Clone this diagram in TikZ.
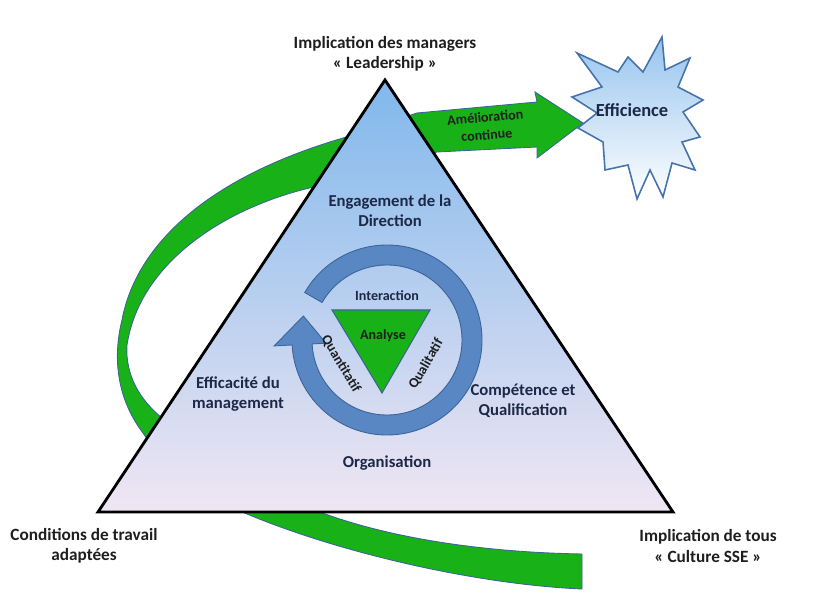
\documentclass[tikz,border=0pt]{standalone}
\usepackage{fontspec}
\setmainfont{Carlito}

\definecolor{bandgreen}{RGB}{24,178,24}
\definecolor{bandedge}{RGB}{60,100,150}
\definecolor{ringblue}{RGB}{88,135,195}
\definecolor{ringedge}{RGB}{60,100,150}
\definecolor{labelnavy}{RGB}{28,40,70}
\definecolor{labeldark}{RGB}{30,30,30}
\definecolor{skytop}{RGB}{128,184,236}
\definecolor{skymid}{RGB}{203,225,243}
\definecolor{skybot}{RGB}{240,230,243}
\definecolor{starblue}{RGB}{150,196,238}
\definecolor{staredge}{RGB}{70,115,170}

\begin{document}
\begin{tikzpicture}[x=0.02cm, y=-0.02cm,
    outerlabel/.style={align=center, text=labeldark, font=\bfseries\fontsize{9.8}{11.5}\selectfont},
    innerlabel/.style={align=center, text=labelnavy, font=\bfseries\fontsize{9.5}{11.5}\selectfont},
    smalllabel/.style={align=center, inner sep=0.5pt, text=labeldark, font=\bfseries\fontsize{8}{10}\selectfont}]

    \useasboundingbox (0,0) rectangle (820,597);

    % Define coordinates for key points (pixels of the image)
    \coordinate (T) at (385,80);  % apex
    \coordinate (L) at (98,512);  % bottom left
    \coordinate (R) at (673,512); % bottom right
    \coordinate (C) at (387,340); % centre of the cycle arrow

    % Green band round the triangle, ending in the arrow
    \filldraw[bandgreen, draw=bandedge, line width=0.5pt]
        (582,589) .. controls (470,584) and (330,550) .. (240,511)
        .. controls (200,495) and (165,465) .. (143,433)
        .. controls (118,400) and (112,360) .. (122,320)
        .. controls (135,250) and (200,180) .. (343,138)
        -- (417,113) -- (537,102) -- (535,92) -- (583,123) -- (537,158) -- (537,147) -- (437,152)
        -- (318,186)
        .. controls (230,205) and (140,260) .. (127,345)
        .. controls (125,375) and (140,400) .. (162,418)
        -- (317,511)
        .. controls (380,535) and (470,552) .. (582,554) -- cycle;

    % Efficience star
    \shadedraw[top color=starblue, bottom color=white, draw=staredge, line width=0.9pt, line join=miter]
        (662,37) -- (665,70) -- (690,58) -- (678,87) -- (703,100) -- (683,112) -- (700,137)
        -- (682,142) -- (695,170) -- (672,163) -- (663,197) -- (650,170) -- (637,199)
        -- (628,165) -- (605,170) -- (603,142) -- (578,128) -- (597,113) -- (572,97)
        -- (602,87) -- (577,53) -- (618,72) -- (628,57) -- (643,72) -- cycle;

    % The triangle
    \shadedraw[top color=skytop, middle color=skymid, bottom color=skybot, draw=black, line width=1.6pt, line join=miter]
        (T) -- (R) -- (L) -- cycle;

    % Cycle arrow (drawn the usual way up round C)
    \begin{scope}[shift={(C)}, yscale=-1]
        \filldraw[ringblue, draw=ringedge, line width=0.5pt]
            (150:95) arc[start angle=150, end angle=-177, radius=95]
            -- (-177:113) -- (164:87) -- (-177:61) -- (-177:75)
            arc[start angle=-177, end angle=150, radius=75] -- cycle;
    \end{scope}

    % Inner green triangle
    \filldraw[bandgreen, draw=bandedge, line width=0.6pt] (332,310) -- (430,310) -- (382,393) -- cycle;

    % Label the parts
    \node[outerlabel] (lead) at (385,54) {Implication des managers\\« Leadership »};
    \node[outerlabel] (cond) at (84,546) {Conditions de travail\\adaptées};
    \node[outerlabel] (tous) at (708,546) {Implication de tous\\« Culture SSE »};

    \node[innerlabel] (engage) at (390,211) {Engagement de la\\Direction};
    \node[innerlabel] (effic) at (238,394) {Efficacité du\\management};
    \node[innerlabel] (compet) at (523,401) {Compétence et\\Qualification};
    \node[innerlabel] (orga) at (387,463) {Organisation};

    \node[smalllabel, text=labelnavy] (inter) at (387,296) {Interaction};
    \node[smalllabel] (analyse) at (383,336) {Analyse};
    \node[smalllabel, rotate=-59] (quanti) at (341,364) {Quantitatif};
    \node[smalllabel, rotate=60] (quali) at (426,364) {Qualitatif};
    \node[smalllabel, rotate=5] (amelio) at (486,126) {Amélioration\\continue};

    \node[text=labelnavy, font=\bfseries\fontsize{10.5}{12}\selectfont] (effi) at (632,110) {Efficience};

\end{tikzpicture}
\end{document}
